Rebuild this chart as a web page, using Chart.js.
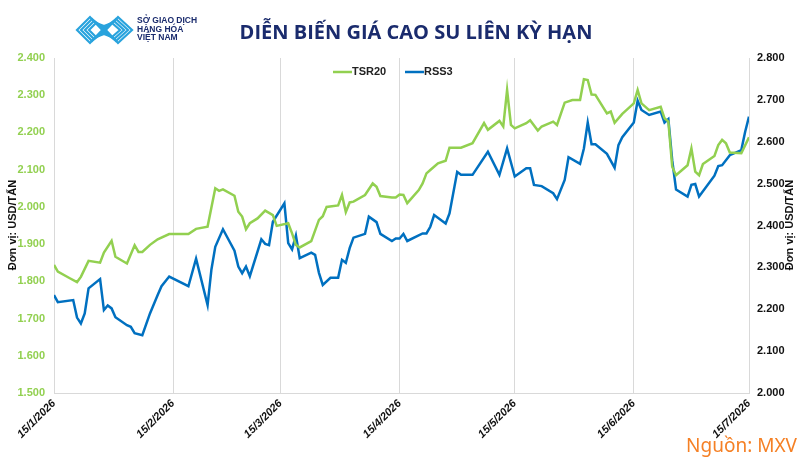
<!DOCTYPE html>
<html>
<head>
<meta charset="utf-8">
<script src="https://cdn.jsdelivr.net/npm/chart.js@4"></script>
<style>
  html, body { margin: 0; padding: 0; background: #fff; }
  #wrap { width: 800px; height: 467px; position: relative; }
</style>
</head>
<body>
<div id="wrap"><canvas id="chart" width="800" height="467"></canvas></div>
<script>
// Data (days counted from 15/1/2026, prices in USD/tấn)
const tickDays = [0, 31, 59, 90, 120, 151, 181];
const tickLabels = ['15/1/2026', '15/2/2026', '15/3/2026', '15/4/2026', '15/5/2026', '15/6/2026', '15/7/2026'];

const tsrDays = [0, 1, 4, 6, 7, 9, 12, 13, 15, 16, 19, 21, 22, 23, 25, 27, 30, 35, 37, 40,
  42, 43, 44, 47, 48, 49, 50, 51, 53, 55, 56, 57, 58, 61, 62, 63, 64, 67, 69, 70,
  71, 74, 75, 76, 77, 78, 81, 83, 84, 85, 88, 89, 90, 91, 92, 95, 96, 97, 98, 100,
  102, 103, 106, 109, 112, 113, 116, 117, 118, 119, 120, 123, 124, 126, 127, 130, 131, 133, 135, 137,
  138, 139, 140, 141, 144, 145, 146, 148, 151, 152, 153, 155, 158, 159, 160, 161, 162, 165, 166, 167,
  168, 169, 172, 173, 174, 175, 176, 179, 181];
const tsrValues = [1844, 1826, 1809, 1798, 1812, 1855, 1850, 1877, 1909, 1866, 1848, 1897, 1879, 1879, 1898, 1913, 1927, 1927, 1941, 1947,
  2050, 2043, 2047, 2030, 1987, 1974, 1940, 1956, 1969, 1990, 1984, 1978, 1949, 1956, 1929, 1898, 1891, 1908, 1965, 1975,
  2000, 2004, 2032, 1986, 2012, 2014, 2032, 2063, 2054, 2029, 2025, 2025, 2033, 2032, 2010, 2045, 2063, 2090, 2099, 2117,
  2124, 2159, 2159, 2171, 2225, 2207, 2231, 2216, 2314, 2220, 2211, 2225, 2233, 2205, 2216, 2229, 2220, 2280, 2287, 2287,
  2343, 2341, 2302, 2301, 2251, 2256, 2226, 2250, 2278, 2314, 2278, 2260, 2269, 2238, 2229, 2108, 2085, 2112, 2157, 2095,
  2085, 2115, 2137, 2166, 2180, 2171, 2146, 2144, 2187];

const rssDays = [0, 1, 5, 6, 7, 8, 9, 12, 13, 14, 15, 16, 19, 20, 21, 23, 25, 27, 28, 30,
  35, 37, 40, 41, 42, 44, 47, 48, 49, 50, 51, 54, 55, 56, 57, 60, 61, 62, 63, 64,
  67, 68, 69, 70, 72, 74, 75, 76, 77, 78, 81, 82, 84, 85, 88, 89, 90, 91, 92, 96,
  97, 98, 99, 102, 103, 105, 106, 109, 113, 116, 118, 120, 123, 124, 125, 127, 130, 131, 133, 134,
  137, 138, 139, 140, 141, 144, 146, 147, 148, 151, 152, 153, 155, 158, 159, 160, 161, 162, 165, 166,
  167, 168, 172, 173, 174, 176, 179, 180, 181];
const rssValues = [2234, 2217, 2222, 2180, 2166, 2190, 2250, 2272, 2198, 2209, 2202, 2181, 2162, 2158, 2143, 2138, 2190, 2234, 2255, 2278,
  2255, 2321, 2210, 2295, 2349, 2391, 2340, 2302, 2286, 2302, 2279, 2367, 2356, 2353, 2409, 2453, 2358, 2343, 2376, 2322,
  2335, 2330, 2287, 2258, 2275, 2275, 2318, 2311, 2346, 2371, 2380, 2421, 2408, 2380, 2363, 2369, 2369, 2380, 2363, 2381,
  2381, 2397, 2425, 2405, 2429, 2528, 2521, 2521, 2576, 2521, 2584, 2517, 2537, 2537, 2497, 2494, 2477, 2463, 2509, 2563,
  2547, 2584, 2646, 2594, 2594, 2571, 2538, 2592, 2611, 2646, 2698, 2676, 2664, 2672, 2646, 2654, 2556, 2486, 2469, 2497,
  2499, 2469, 2519, 2542, 2544, 2568, 2580, 2624, 2660];

const green = '#92d050';
const blue = '#0070c0';
const navy = '#1a2b6d';
const gridGray = '#d9d9d9';

function fmt(v) {
  return String(v).replace(/\B(?=(\d{3})+(?!\d))/g, '.');
}

// Title, logo, legend, axis titles, source
const decor = {
  id: 'decor',
  afterDraw(chart) {
    const ctx = chart.ctx;
    ctx.save();

    // title
    ctx.fillStyle = navy;
    ctx.font = 'bold 20px "Open Sans", sans-serif';
    ctx.textAlign = 'center';
    ctx.textBaseline = 'middle';
    ctx.fillText('DIỄN BIẾN GIÁ CAO SU LIÊN KỲ HẠN', 416, 33);

    // logo (simplified zigzag mark)
    ctx.strokeStyle = '#29a3dd';
    ctx.lineWidth = 2.2;
    for (let i = 0; i < 4; i++) {
      const o = i * 4;
      ctx.beginPath();
      ctx.moveTo(77 + o, 30);
      ctx.lineTo(90 + o / 2, 17 + o / 2);
      ctx.lineTo(104, 30 - o / 2 + 2);
      ctx.lineTo(118 - o / 2, 17 + o / 2);
      ctx.lineTo(132 - o, 30);
      ctx.lineTo(118 - o / 2, 43 - o / 2);
      ctx.lineTo(104, 30 + o / 2 - 2);
      ctx.lineTo(90 + o / 2, 43 - o / 2);
      ctx.closePath();
      ctx.stroke();
    }
    ctx.fillStyle = navy;
    ctx.textAlign = 'left';
    ctx.font = 'bold 8.5px "Liberation Sans Narrow", "Liberation Sans", sans-serif';
    ctx.fillText('SỞ GIAO DỊCH', 137, 21);
    ctx.fillText('HÀNG HÓA', 137, 29.5);
    ctx.fillText('VIỆT NAM', 137, 38);

    // legend
    ctx.lineWidth = 2.5;
    ctx.strokeStyle = green;
    ctx.beginPath(); ctx.moveTo(333, 72); ctx.lineTo(352, 72); ctx.stroke();
    ctx.strokeStyle = blue;
    ctx.beginPath(); ctx.moveTo(405, 72); ctx.lineTo(424, 72); ctx.stroke();
    ctx.fillStyle = '#222';
    ctx.font = 'bold 11px "Liberation Sans", sans-serif';
    ctx.fillText('TSR20', 352, 72);
    ctx.fillText('RSS3', 424, 72);

    // axis titles
    ctx.font = 'bold 11px "Liberation Sans", sans-serif';
    ctx.fillStyle = '#111';
    ctx.textAlign = 'center';
    ctx.save();
    ctx.translate(13, 225);
    ctx.rotate(-Math.PI / 2);
    ctx.fillText('Đơn vị: USD/TẤN', 0, 0);
    ctx.restore();
    ctx.save();
    ctx.translate(790, 225);
    ctx.rotate(-Math.PI / 2);
    ctx.fillText('Đơn vị: USD/TẤN', 0, 0);
    ctx.restore();

    // source
    ctx.fillStyle = '#f58025';
    ctx.font = '19px "Noto Sans", sans-serif';
    ctx.textAlign = 'right';
    ctx.fillText('Nguồn: MXV', 797, 447);

    ctx.restore();
  }
};

new Chart(document.getElementById('chart'), {
  type: 'line',
  data: {
    datasets: [
      {
        label: 'TSR20',
        data: tsrDays.map((d, i) => ({ x: d, y: tsrValues[i] })),
        borderColor: green,
        borderWidth: 2.5,
        pointRadius: 0,
        tension: 0,
        yAxisID: 'yL'
      },
      {
        label: 'RSS3',
        data: rssDays.map((d, i) => ({ x: d, y: rssValues[i] })),
        borderColor: blue,
        borderWidth: 2.5,
        pointRadius: 0,
        tension: 0,
        yAxisID: 'yR'
      }
    ]
  },
  options: {
    responsive: false,
    animation: false,
    layout: { padding: { top: 58, left: 0, right: 0, bottom: 0 } },
    plugins: { legend: { display: false }, tooltip: { enabled: false } },
    scales: {
      x: {
        type: 'linear',
        min: 0,
        max: 181,
        afterBuildTicks: s => { s.ticks = tickDays.map(v => ({ value: v })); },
        afterFit: s => { s.height = 74; s.paddingLeft = 0; s.paddingRight = 0; },
        ticks: {
          autoSkip: false,
          maxRotation: 45,
          minRotation: 45,
          padding: 4,
          color: '#111',
          font: { family: 'Liberation Sans', size: 11, weight: 'bold', style: 'italic' },
          callback: (v, i) => tickLabels[i]
        },
        grid: { color: gridGray, drawTicks: false },
        border: { color: gridGray }
      },
      yL: {
        position: 'left',
        min: 1500,
        max: 2400,
        afterBuildTicks: s => { s.ticks = [1500, 1600, 1700, 1800, 1900, 2000, 2100, 2200, 2300, 2400].map(v => ({ value: v })); },
        afterFit: s => { s.width = 54; },
        ticks: {
          color: green,
          padding: 9,
          font: { family: 'Liberation Sans', size: 11, weight: 'bold' },
          callback: v => fmt(v)
        },
        grid: { display: false, drawTicks: false },
        border: { display: false }
      },
      yR: {
        position: 'right',
        min: 2000,
        max: 2800,
        afterBuildTicks: s => { s.ticks = [2000, 2100, 2200, 2300, 2400, 2500, 2600, 2700, 2800].map(v => ({ value: v })); },
        afterFit: s => { s.width = 51; },
        ticks: {
          color: '#111',
          padding: 8,
          font: { family: 'Liberation Sans', size: 11, weight: 'bold' },
          callback: v => fmt(v)
        },
        grid: { display: false, drawTicks: false },
        border: { display: false }
      }
    }
  },
  plugins: [decor]
});
</script>
</body>
</html>
